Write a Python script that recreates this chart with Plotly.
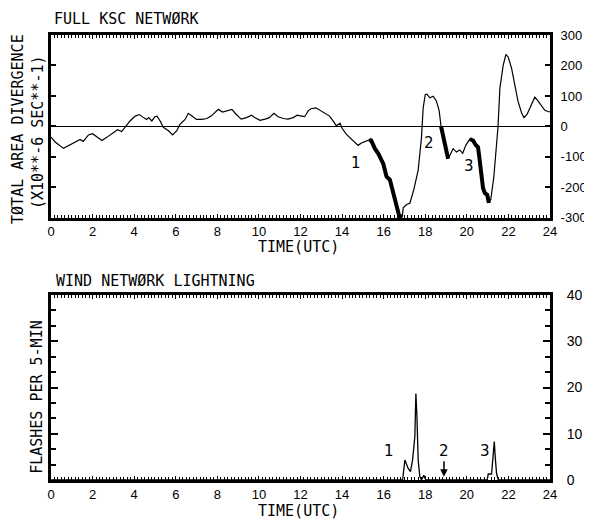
import numpy as np
import plotly.graph_objects as go

# ---------------- data ----------------
# Total area divergence (x10**-6 s**-1), full KSC network
time_div = [0.0, 0.2, 0.6, 0.9, 1.15, 1.4, 1.55, 1.8, 2.0, 2.3, 2.45, 2.7, 2.85, 3.0, 3.2, 3.4,
            3.6, 3.8, 4.05, 4.25, 4.45, 4.6, 4.7, 4.85, 5.0, 5.1, 5.25, 5.4, 5.65, 5.85, 6.05,
            6.2, 6.45, 6.6, 6.75, 7.0, 7.25, 7.5, 7.7, 7.9, 8.05, 8.25, 8.5, 8.7, 8.9, 9.15,
            9.4, 9.65, 9.8, 10.05, 10.3, 10.5, 10.72, 10.93, 11.17, 11.4, 11.65, 11.84, 12.05,
            12.2, 12.37, 12.5, 12.74, 12.93, 13.17, 13.4, 13.6, 13.73, 13.9, 14.0, 14.2, 14.37,
            14.53, 14.77, 14.93, 15.17, 15.3, 15.4, 15.58, 15.74, 15.98, 16.14, 16.3, 16.46,
            16.62, 16.75, 16.9, 16.94, 17.1, 17.26, 17.45, 17.66, 17.82, 17.9, 18.0, 18.08,
            18.22, 18.38, 18.54, 18.67, 18.76, 18.9, 19.02, 19.1, 19.18, 19.34, 19.5, 19.66,
            19.8, 19.95, 20.14, 20.3, 20.43, 20.54, 20.59, 20.7, 20.78, 20.87, 20.98, 21.06,
            21.15, 21.3, 21.43, 21.5, 21.59, 21.75, 21.88, 21.99, 22.15, 22.3, 22.46, 22.63,
            22.75, 22.9, 23.06, 23.27, 23.43, 23.59, 23.75, 23.9, 24.0]
divergence = [-35, -51, -72, -62, -51, -43, -49, -28, -24, -40, -46, -35, -28, -19, -11, -17,
              0, 18, 34, 39, 29, 23, 29, 18, 32, 34, 18, -3, -14, -28, -14,
              7, 23, 43, 36, 23, 23, 26, 34, 47, 56, 47, 51, 56, 40, 24,
              29, 37, 29, 20, 24, 29, 43, 32, 26, 24, 29, 37, 34,
              32, 51, 58, 61, 54, 45, 34, 15, 2, 11, -6, -25, -36,
              -46, -62, -54, -46, -44, -46, -73, -89, -122, -165, -175, -219,
              -267, -295, -295, -267, -256, -252, -207, -143, -35, 61, 104, 106,
              94, 99, 83, 51, 0, -46, -78, -106, -95, -73, -84, -77,
              -88, -62, -41, -46, -61, -68, -95, -149, -203, -219, -224, -251,
              -240, -165, -35, 0, 126, 201, 236, 228, 191, 137, 83, 45,
              29, 40, 67, 96, 83, 67, 53, 49, 48]

# periods drawn with the heavy line (start, end in UTC hours)
heavy_periods = [(15.3, 16.9), (18.76, 19.1), (20.14, 21.06)]

# Wind network lightning flashes per 5 min
time_fl = [0.0, 16.91, 17.02, 17.18, 17.29, 17.39, 17.5, 17.55, 17.6, 17.66, 17.74, 17.82,
           17.93, 18.03, 20.98, 21.03, 21.19, 21.27, 21.32, 21.37, 21.43, 21.51, 24.0]
flashes = [0, 0, 4.3, 2.5, 1.8, 4.3, 9.4, 18.7, 13.7, 4.3, 0.7, 0,
           1.0, 0, 0, 1.3, 1.3, 5.0, 8.3, 4.7, 1.4, 0, 0]

x_ticks = list(range(0, 25, 2))
div_ticks = [300, 200, 100, 0, -100, -200, -300]
fl_ticks = [40, 30, 20, 10, 0]

# event labels
div_labels = [("1", 14.66, -120), ("2", 18.19, -54), ("3", 20.1, -129)]
fl_labels = [("1", 16.25, 6.2), ("2", 18.9, 6.2), ("3", 20.87, 6.2)]

# ---------------- figure ----------------
MONO = "DejaVu Sans Mono"
NUM = "Liberation Sans"

fig = go.Figure()

t_arr = np.array(time_div)
d_arr = np.array(divergence, dtype=float)

fig.add_trace(go.Scatter(x=time_div, y=divergence, mode="lines",
                         line=dict(color="black", width=1.2), xaxis="x", yaxis="y",
                         showlegend=False, hoverinfo="skip"))
for (a, b) in heavy_periods:
    m = (t_arr >= a) & (t_arr <= b)
    fig.add_trace(go.Scatter(x=t_arr[m], y=d_arr[m], mode="lines",
                             line=dict(color="black", width=4), xaxis="x", yaxis="y",
                             showlegend=False, hoverinfo="skip"))

fig.add_trace(go.Scatter(x=time_fl, y=flashes, mode="lines",
                         line=dict(color="black", width=1.3), xaxis="x2", yaxis="y2",
                         showlegend=False, hoverinfo="skip"))

common_x = dict(range=[0, 24], tickvals=x_ticks, ticks="inside", ticklen=4, tickwidth=1,
                tickcolor="black", showline=True, linewidth=3, linecolor="black",
                mirror="allticks", showgrid=False, zeroline=False, automargin=False,
                ticklabelstandoff=0,
                minor=dict(dtick=1/6, ticks="inside", ticklen=3, tickcolor="black", tickwidth=1),
                tickfont=dict(family=NUM, size=13, color="black"))

# the page body adds an 8 px offset; the figure is sized so the plot lands where the
# reference has it inside the 592x519 window
fig.update_layout(
    template="none",
    width=584, height=511,
    margin=dict(l=43, r=42, t=27, b=39, autoexpand=False),
    paper_bgcolor="white", plot_bgcolor="white",
    xaxis=dict(domain=[0, 1], anchor="y", **common_x),
    yaxis=dict(domain=[0.589, 1.0], anchor="x", side="right", range=[-300, 300],
               tickvals=div_ticks, ticktext=[str(v) for v in div_ticks],
               ticks="inside", ticklen=5, tickwidth=1.5, tickcolor="black",
               showline=True, linewidth=3, linecolor="black", mirror="ticks",
               showgrid=False, zeroline=True, zerolinecolor="black", zerolinewidth=1.2,
               ticklabelstandoff=5, automargin=False,
               tickfont=dict(family=NUM, size=13, color="black")),
    xaxis2=dict(domain=[0, 1], anchor="y2", **common_x),
    yaxis2=dict(domain=[0.0, 0.4157], anchor="x2", side="right", range=[0, 40],
                tickvals=fl_ticks, ticktext=[str(v) for v in fl_ticks],
                ticks="inside", ticklen=7, tickwidth=1.5, tickcolor="black",
                showline=True, linewidth=3, linecolor="black", mirror="ticks",
                showgrid=False, zeroline=False, ticklabelstandoff=11, automargin=False,
                minor=dict(dtick=10/3, ticks="inside", ticklen=5, tickcolor="black", tickwidth=1.5),
                tickfont=dict(family=NUM, size=14, color="black")),
)

ann = []
tfont = dict(family=MONO, size=15, color="black")
ann.append(dict(text="FULL KSC NETWØRK", x=0.002, y=1.036, xref="paper", yref="paper",
                xanchor="left", yanchor="middle", showarrow=False, font=tfont))
ann.append(dict(text="WIND NETWØRK LIGHTNING", x=0.006, y=0.447, xref="paper", yref="paper",
                xanchor="left", yanchor="middle", showarrow=False, font=tfont))
ann.append(dict(text="TØTAL AREA DIVERGENCE", x=-0.066, y=0.789, xref="paper", yref="paper",
                xanchor="center", yanchor="middle", textangle=-90, showarrow=False, font=tfont))
ann.append(dict(text="(X10**-6 SEC**-1)", x=-0.026, y=0.782, xref="paper", yref="paper",
                xanchor="center", yanchor="middle", textangle=-90, showarrow=False, font=tfont))
ann.append(dict(text="FLASHES PER 5-MIN", x=-0.028, y=0.187, xref="paper", yref="paper",
                xanchor="center", yanchor="middle", textangle=-90, showarrow=False, font=tfont))
ann.append(dict(text="TIME(UTC)", x=0.495, y=0.524, xref="paper", yref="paper",
                xanchor="center", yanchor="middle", showarrow=False, font=tfont))
ann.append(dict(text="TIME(UTC)", x=0.495, y=-0.069, xref="paper", yref="paper",
                xanchor="center", yanchor="middle", showarrow=False, font=tfont))

lfont = dict(family="DejaVu Sans", size=15, color="black")
for txt, xv, yv in div_labels:
    ann.append(dict(text=txt, x=xv, y=yv, xref="x", yref="y", showarrow=False, font=lfont))
for txt, xv, yv in fl_labels:
    ann.append(dict(text=txt, x=xv, y=yv, xref="x2", yref="y2", showarrow=False, font=lfont))
# arrow under label 2 (lightning)
ann.append(dict(text="", x=fl_labels[1][1], y=0.7, xref="x2", yref="y2",
                ax=fl_labels[1][1], ay=4.4, axref="x2", ayref="y2",
                showarrow=True, arrowhead=2, arrowsize=1, arrowwidth=1.5, arrowcolor="black"))

fig.update_layout(annotations=ann)
fig.write_html("out.html")
